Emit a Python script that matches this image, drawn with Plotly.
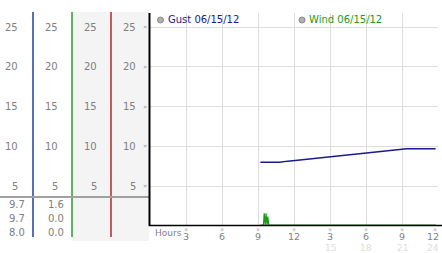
import plotly.graph_objects as go

# ---- data ----
gust_hours = [9.2, 10.8, 11.5, 12.5, 13.5, 14.5, 15.5, 16.5, 17.5, 18.5, 19.5, 20.5, 21.4, 23.8]
gust_values = [8.0, 8.0, 8.15, 8.3, 8.45, 8.6, 8.75, 8.9, 9.05, 9.2, 9.35, 9.5, 9.7, 9.7]
wind_hours = [9.2, 9.45, 9.52, 9.6, 9.67, 9.75, 9.82, 9.9, 23.8]
wind_values = [0.1, 0.1, 1.6, 0.1, 1.6, 0.1, 1.2, 0.1, 0.1]

y_ticks = [5, 10, 15, 20, 25]
x_ticks = [3, 6, 9, 12, 15, 18, 21, 24]
x_tick_labels = ["3", "6", "9", "12", "3", "6", "9", "12"]
x_tick_labels2 = ["15", "18", "21", "24"]
legend_names = ["Gust 06/15/12", "Wind 06/15/12"]
table_col1 = ["9.7", "9.7", "8.0"]
table_col2 = ["1.6", "0.0", "0.0"]

W, H = 442, 253
GUST_C = "#1a1a8c"
WIND_C = "#1a9a1a"
FONT = "DejaVu Sans"


def px(x):
    return x / W


def py(y):
    return (H - y) / H


fig = go.Figure()
fig.add_trace(go.Scatter(x=gust_hours, y=gust_values, mode="lines",
                         line=dict(color=GUST_C, width=1.5), showlegend=False))
fig.add_trace(go.Scatter(x=wind_hours, y=wind_values, mode="lines",
                         line=dict(color=WIND_C, width=1.2), showlegend=False))

shapes = []
ann = []
# left panel background for columns 3-4
shapes.append(dict(type="rect", xref="paper", yref="paper", x0=px(72), x1=px(149),
                   y0=py(241), y1=py(12), fillcolor="#f4f4f5", line=dict(width=0), layer="below"))
# column lines
for xp, c in [(33, "#2040a0"), (72, "#2e9a2e"), (111, "#b02828")]:
    shapes.append(dict(type="line", xref="paper", yref="paper", x0=px(xp), x1=px(xp),
                       y0=py(237), y1=py(12), line=dict(color=c, width=1.5)))
# separator
shapes.append(dict(type="line", xref="paper", yref="paper", x0=0, x1=px(149),
                   y0=py(197), y1=py(197), line=dict(color="#a0a0a0", width=2)))
# axes black lines
shapes.append(dict(type="line", xref="paper", yref="paper", x0=px(149.5), x1=px(149.5),
                   y0=py(226), y1=py(13), line=dict(color="black", width=2)))
shapes.append(dict(type="line", xref="paper", yref="paper", x0=px(149), x1=px(442),
                   y0=py(225.5), y1=py(225.5), line=dict(color="black", width=1.5)))

# left axis labels
for yv in y_ticks:
    for xr in [20, 60, 99, 138]:
        ann.append(dict(x=px(xr), y=yv, xref="paper", yref="y", text=str(yv), showarrow=False,
                        xanchor="right", yanchor="middle", font=dict(family=FONT, size=10, color="#808080")))
    ann.append(dict(x=px(145), y=yv, xref="paper", yref="y", text="»", showarrow=False,
                    xanchor="center", yanchor="middle", font=dict(family=FONT, size=7, color="#999999")))

# table values
for i, (a, b) in enumerate(zip(table_col1, table_col2)):
    yy = [204, 218, 232][i]
    ann.append(dict(x=px(27), y=py(yy), xref="paper", yref="paper", text=a, showarrow=False,
                    xanchor="right", yanchor="middle", font=dict(family=FONT, size=10, color="#808080")))
    ann.append(dict(x=px(66), y=py(yy), xref="paper", yref="paper", text=b, showarrow=False,
                    xanchor="right", yanchor="middle", font=dict(family=FONT, size=10, color="#808080")))

# legend
for name, c, xs in [(legend_names[0], GUST_C, 160.5), (legend_names[1], WIND_C, 302)]:
    shapes.append(dict(type="circle", xref="paper", yref="paper", x0=px(xs - 3), x1=px(xs + 3),
                       y0=py(23), y1=py(17), fillcolor="#b0b0b0", line=dict(color="#888888", width=1)))
    ann.append(dict(x=px(xs + 5), y=py(20), xref="paper", yref="paper", text=name, showarrow=False,
                    xanchor="left", yanchor="middle", font=dict(family=FONT, size=10, color=c)))

# x axis labels
ann.append(dict(x=px(153), y=py(233), xref="paper", yref="paper", text="Hours", showarrow=False,
                xanchor="left", yanchor="middle", font=dict(family=FONT, size=9, color="#808080")))
for xv, lab in zip(x_ticks, x_tick_labels):
    last = xv == x_ticks[-1]
    ann.append(dict(x=px(441) if last else xv, y=py(236), xref="paper" if last else "x", yref="paper",
                    text=lab, showarrow=False, xanchor="right" if last else "center", yanchor="middle",
                    font=dict(family=FONT, size=9.5, color="#808080")))
    ann.append(dict(x=px(435) if last else xv, y=py(229.5), xref="paper" if last else "x", yref="paper",
                    text="»", showarrow=False, textangle=90,
                    xanchor="center", yanchor="middle", font=dict(family=FONT, size=7, color="#999999")))
for xv, lab in zip(x_ticks[4:], x_tick_labels2):
    last = xv == x_ticks[-1]
    ann.append(dict(x=px(441) if last else xv, y=py(248), xref="paper" if last else "x", yref="paper",
                    text=lab, showarrow=False, xanchor="right" if last else "center", yanchor="middle",
                    font=dict(family=FONT, size=9, color="#dddddd")))

fig.update_layout(
    width=W, height=H,
    margin=dict(l=0, r=0, t=0, b=0),
    paper_bgcolor="white", plot_bgcolor="white",
    xaxis=dict(domain=[px(150), px(438)], range=[0, 24], tickvals=x_ticks, showticklabels=False,
               showgrid=True, gridcolor="#dddddd", gridwidth=1, zeroline=False, showline=False, ticks=""),
    yaxis=dict(domain=[py(226), py(13)], range=[0, 26.76], tickvals=y_ticks, showticklabels=False,
               showgrid=True, gridcolor="#dddddd", gridwidth=1, zeroline=False, showline=False, ticks=""),
    shapes=shapes, annotations=ann, showlegend=False,
)
fig.write_html("out.html")
